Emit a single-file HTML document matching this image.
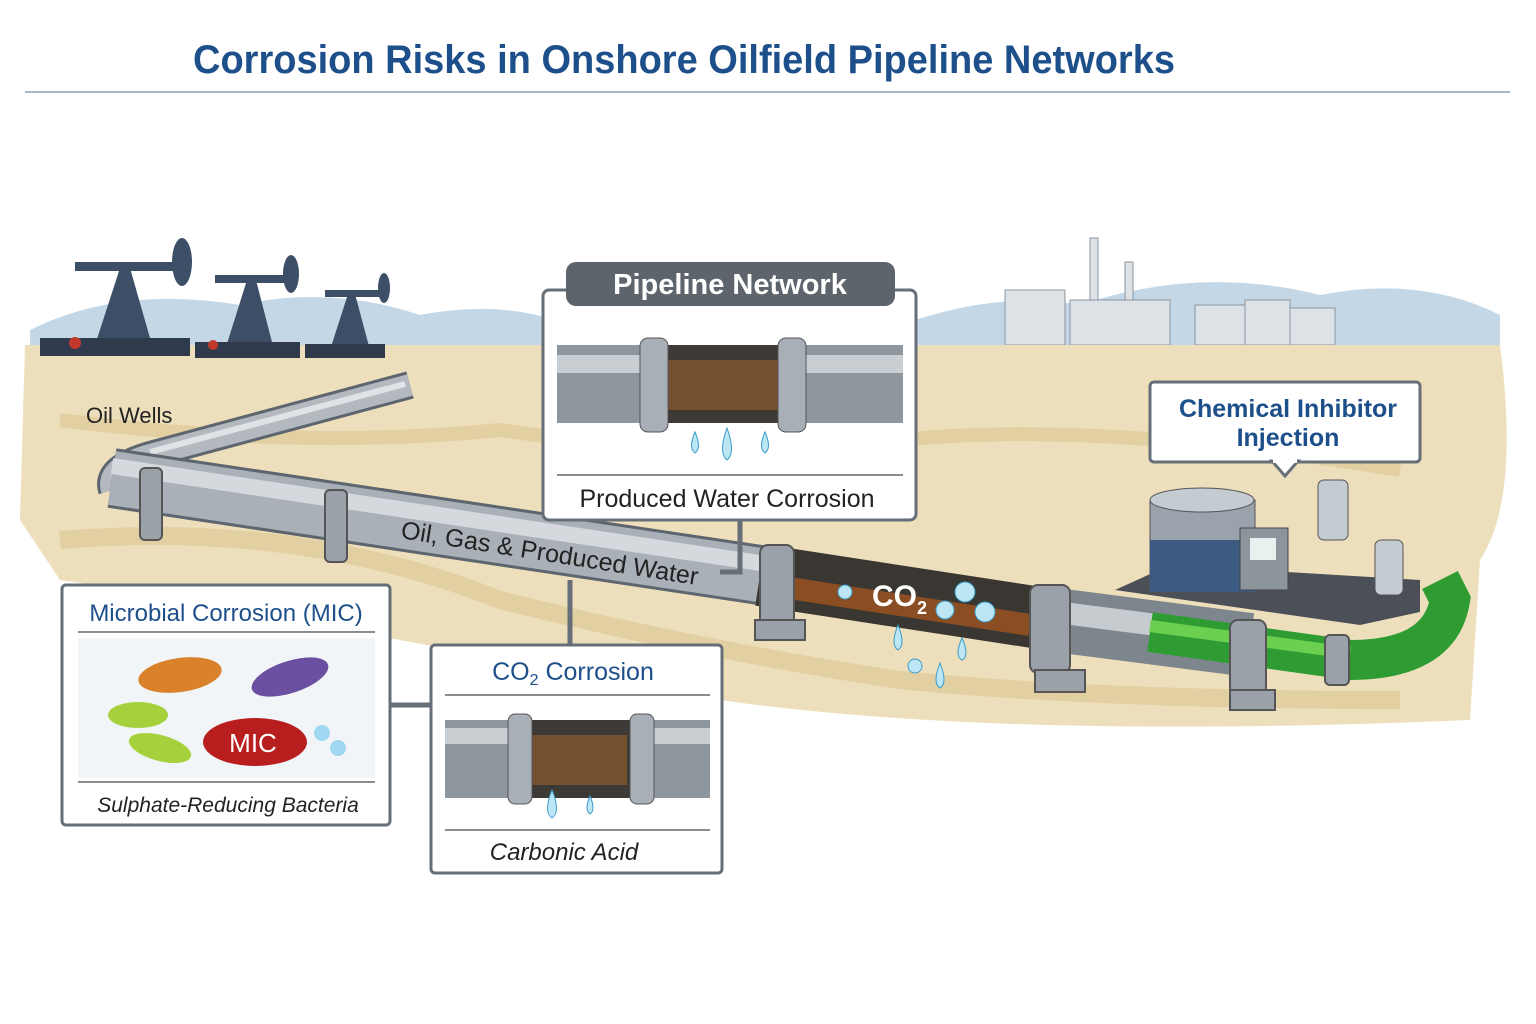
<!DOCTYPE html>
<html><head><meta charset="utf-8"><style>
body{margin:0;background:#fff}
svg{display:block}
text{font-family:"Liberation Sans",sans-serif}
</style></head><body>
<svg width="1536" height="1024" viewBox="0 0 1536 1024" xmlns="http://www.w3.org/2000/svg">
<rect width="1536" height="1024" fill="#fff"/>
<text x="684" y="73" text-anchor="middle" font-size="40" font-weight="bold" fill="#1d4f8a" textLength="982" lengthAdjust="spacingAndGlyphs">Corrosion Risks in Onshore Oilfield Pipeline Networks</text>
<line x1="25" y1="92" x2="1510" y2="92" stroke="#a9b9cc" stroke-width="2"/>
<!-- hills -->
<path d="M30 330 Q120 285 240 305 Q330 285 420 315 Q500 300 560 322 L560 345 L30 345Z" fill="#c3d7e6"/>
<path d="M900 325 Q1000 290 1080 305 Q1200 265 1320 295 Q1420 275 1500 315 L1500 345 L900 345Z" fill="#c3d7e6"/>
<!-- refinery -->
<g fill="#dde2e6" stroke="#8a949e">
<rect x="1005" y="290" width="60" height="55"/><rect x="1090" y="238" width="8" height="100"/><rect x="1125" y="262" width="8" height="80"/><rect x="1070" y="300" width="100" height="45"/>
<rect x="1195" y="305" width="50" height="40"/><rect x="1245" y="300" width="45" height="45"/><rect x="1290" y="308" width="45" height="37"/>
</g>
<!-- ground -->
<path d="M25 345 L1500 345 Q1520 500 1480 560 L1470 720 Q1000 740 720 700 L400 640 Q200 600 60 580 L20 520 Z" fill="#eddfbb"/>
<path d="M60 420 Q300 450 500 430 Q700 460 900 440 Q1100 420 1400 470" stroke="#dcc691" stroke-width="14" fill="none" opacity=".6"/>
<path d="M60 540 Q300 520 500 600 Q700 650 900 680 Q1100 700 1400 700" stroke="#dcc691" stroke-width="18" fill="none" opacity=".6"/>
<!-- pumpjacks -->
<g fill="#3d4f66">
<rect x="75" y="262" width="105" height="9"/><polygon points="95,345 120,268 130,268 152,345"/><rect x="40" y="338" width="150" height="18" fill="#2f3b4c"/><ellipse cx="182" cy="262" rx="10" ry="24"/>
<rect x="215" y="275" width="80" height="8"/><polygon points="225,350 247,280 256,280 274,350"/><rect x="195" y="342" width="105" height="16" fill="#2f3b4c"/><ellipse cx="291" cy="274" rx="8" ry="19"/>
<rect x="325" y="290" width="60" height="7"/><polygon points="330,350 348,294 355,294 370,350"/><rect x="305" y="344" width="80" height="14" fill="#2f3b4c"/><ellipse cx="384" cy="288" rx="6" ry="15"/>
</g>
<circle cx="75" cy="343" r="6" fill="#c0392b"/><circle cx="213" cy="345" r="5" fill="#c0392b"/>
<text x="86" y="423" font-size="22" fill="#222">Oil Wells</text>
<!-- pipes -->
<path d="M410 385 L150 455 Q105 468 112 490" stroke="#5d656e" stroke-width="28" fill="none"/>
<path d="M410 385 L150 455 Q105 468 112 490" stroke="#b3b9bf" stroke-width="22" fill="none"/>
<path d="M405 384 L150 452" stroke="#dfe3e6" stroke-width="6" fill="none"/>
<path d="M112 478 L760 575" stroke="#5d656e" stroke-width="60" fill="none"/>
<path d="M112 478 L760 575" stroke="#a9b0b7" stroke-width="54" fill="none"/>
<path d="M112 466 L760 563" stroke="#d5d9dd" stroke-width="16" fill="none"/>
<path d="M760 575 L1040 618" stroke="#3a3632" stroke-width="62"/>
<path d="M770 585 L1030 625" stroke="#a0541f" stroke-width="22" opacity=".8"/>
<path d="M1040 618 L1250 645" stroke="#7d858d" stroke-width="64"/>
<path d="M1040 610 L1250 637" stroke="#c6cbd0" stroke-width="22"/>
<path d="M1150 632 L1350 660 Q1440 660 1450 600 L1440 580" stroke="#2e9c33" stroke-width="40" fill="none"/>
<path d="M1150 626 L1350 653" stroke="#6bd04f" stroke-width="12" fill="none"/>
<g fill="#9aa1a8" stroke="#555" stroke-width="2">
<rect x="140" y="468" width="22" height="72" rx="5"/><rect x="325" y="490" width="22" height="72" rx="5"/>
<rect x="760" y="545" width="34" height="82" rx="8"/><rect x="1030" y="585" width="40" height="88" rx="8"/><rect x="1230" y="620" width="36" height="75" rx="8"/><rect x="1325" y="635" width="24" height="50" rx="5"/>
<rect x="755" y="620" width="50" height="20"/><rect x="1035" y="670" width="50" height="22"/><rect x="1230" y="690" width="45" height="20"/>
</g>
<g fill="#bde6f5" stroke="#3a9cc9"><circle cx="845" cy="592" r="7"/><circle cx="965" cy="592" r="10"/><circle cx="945" cy="610" r="9"/><circle cx="985" cy="612" r="10"/><circle cx="915" cy="666" r="7"/><path d="M898 625 Q890 645 898 650 Q906 645 898 625Z"/><path d="M962 638 Q954 656 962 660 Q970 656 962 638Z"/><path d="M940 663 Q932 683 940 688 Q948 683 940 663Z"/></g>
<text x="872" y="606" font-size="30" font-weight="bold" fill="#fff">CO<tspan font-size="18" dy="8">2</tspan></text>
<text transform="translate(400,538) rotate(9)" font-size="25" fill="#222">Oil, Gas &amp; Produced Water</text>
<!-- injection skid -->
<polygon points="1115,590 1170,565 1420,580 1420,612 1360,625" fill="#4b5058"/>
<rect x="1150" y="500" width="105" height="92" fill="#9aa3ab" stroke="#555"/><rect x="1150" y="540" width="105" height="52" fill="#3d5a82"/><ellipse cx="1202" cy="500" rx="52" ry="12" fill="#c4cbd1" stroke="#555"/>
<rect x="1240" y="528" width="48" height="62" fill="#8c949c" stroke="#444"/><rect x="1250" y="538" width="26" height="22" fill="#e8f0f0"/>
<rect x="1318" y="480" width="30" height="60" rx="6" fill="#c4cbd1" stroke="#555"/><rect x="1375" y="540" width="28" height="55" rx="6" fill="#c4cbd1" stroke="#555"/>
<!-- connectors -->
<g stroke="#666f78" stroke-width="5" fill="none"><path d="M740 520 L740 572 L720 572"/><path d="M570 645 L570 580"/><path d="M390 705 L431 705"/></g>
<!-- Pipeline Network box -->
<rect x="543" y="290" width="373" height="230" rx="6" fill="#fff" stroke="#666f78" stroke-width="3"/>
<rect x="566" y="262" width="329" height="44" rx="10" fill="#5d646c"/>
<text x="730" y="294" text-anchor="middle" font-size="29" font-weight="bold" fill="#fff">Pipeline Network</text>
<rect x="557" y="345" width="346" height="78" fill="#8e969e"/><rect x="557" y="355" width="346" height="18" fill="#c9ced3"/>
<rect x="658" y="345" width="130" height="78" fill="#3d3a36"/><rect x="665" y="360" width="115" height="50" fill="#8b5a2b" opacity=".7"/>
<rect x="640" y="338" width="28" height="94" rx="8" fill="#a8afb6" stroke="#555"/><rect x="778" y="338" width="28" height="94" rx="8" fill="#a8afb6" stroke="#555"/>
<g fill="#bde6f5" stroke="#3a9cc9"><path d="M695 432 Q688 448 695 453 Q702 448 695 432Z"/><path d="M727 428 Q718 453 727 460 Q736 453 727 428Z"/><path d="M765 432 Q758 448 765 453 Q772 448 765 432Z"/></g>
<line x1="557" y1="475" x2="903" y2="475" stroke="#666" stroke-width="1.5"/>
<text x="727" y="507" text-anchor="middle" font-size="25" fill="#222">Produced Water Corrosion</text>
<!-- Chemical -->
<rect x="1150" y="382" width="270" height="80" rx="4" fill="#fff" stroke="#666f78" stroke-width="3"/>
<polygon points="1272,461 1298,461 1285,476" fill="#fff" stroke="#666f78" stroke-width="3"/><rect x="1273" y="457" width="24" height="6" fill="#fff"/>
<text x="1288" y="417" text-anchor="middle" font-size="25" font-weight="bold" fill="#1d4f8a">Chemical Inhibitor</text>
<text x="1288" y="446" text-anchor="middle" font-size="25" font-weight="bold" fill="#1d4f8a">Injection</text>
<!-- MIC box -->
<rect x="62" y="585" width="328" height="240" rx="4" fill="#fff" stroke="#666f78" stroke-width="3"/>
<text x="226" y="621" text-anchor="middle" font-size="24" fill="#1d4f8a">Microbial Corrosion (MIC)</text>
<line x1="78" y1="632" x2="375" y2="632" stroke="#666" stroke-width="1.5"/>
<rect x="78" y="638" width="297" height="140" fill="#f2f5f8"/>
<ellipse cx="180" cy="675" rx="42" ry="17" fill="#d9822b" transform="rotate(-8 180 675)"/>
<ellipse cx="290" cy="677" rx="40" ry="16" fill="#6b4fa0" transform="rotate(-18 290 677)"/>
<ellipse cx="138" cy="715" rx="30" ry="13" fill="#a4d13c"/>
<ellipse cx="160" cy="748" rx="32" ry="13" fill="#a4d13c" transform="rotate(15 160 748)"/>
<ellipse cx="255" cy="742" rx="52" ry="24" fill="#b81e1e"/>
<text x="253" y="752" text-anchor="middle" font-size="26" fill="#fff">MIC</text>
<circle cx="322" cy="733" r="8" fill="#9fd8f0"/><circle cx="338" cy="748" r="8" fill="#9fd8f0"/>
<line x1="78" y1="782" x2="375" y2="782" stroke="#666" stroke-width="1.5"/>
<text x="228" y="812" text-anchor="middle" font-size="21" font-style="italic" fill="#222">Sulphate-Reducing Bacteria</text>
<!-- CO2 box -->
<rect x="431" y="645" width="291" height="228" rx="4" fill="#fff" stroke="#666f78" stroke-width="3"/>
<text x="573" y="680" text-anchor="middle" font-size="25" fill="#1d4f8a">CO<tspan font-size="16" dy="5">2</tspan><tspan dy="-5"> Corrosion</tspan></text>
<line x1="445" y1="695" x2="710" y2="695" stroke="#666" stroke-width="1.5"/>
<rect x="445" y="720" width="265" height="78" fill="#8e969e"/><rect x="445" y="728" width="265" height="16" fill="#c9ced3"/>
<rect x="525" y="720" width="110" height="78" fill="#3d3a36"/><rect x="532" y="735" width="95" height="50" fill="#8b5a2b" opacity=".7"/>
<rect x="508" y="714" width="24" height="90" rx="7" fill="#a8afb6" stroke="#555"/><rect x="630" y="714" width="24" height="90" rx="7" fill="#a8afb6" stroke="#555"/>
<g fill="#bde6f5" stroke="#3a9cc9"><path d="M552 790 Q543 812 552 818 Q561 812 552 790Z"/><path d="M590 796 Q584 810 590 814 Q596 810 590 796Z"/></g>
<line x1="445" y1="830" x2="710" y2="830" stroke="#666" stroke-width="1.5"/>
<text x="564" y="860" text-anchor="middle" font-size="24" font-style="italic" fill="#222">Carbonic Acid</text>
</svg>
</body></html>
